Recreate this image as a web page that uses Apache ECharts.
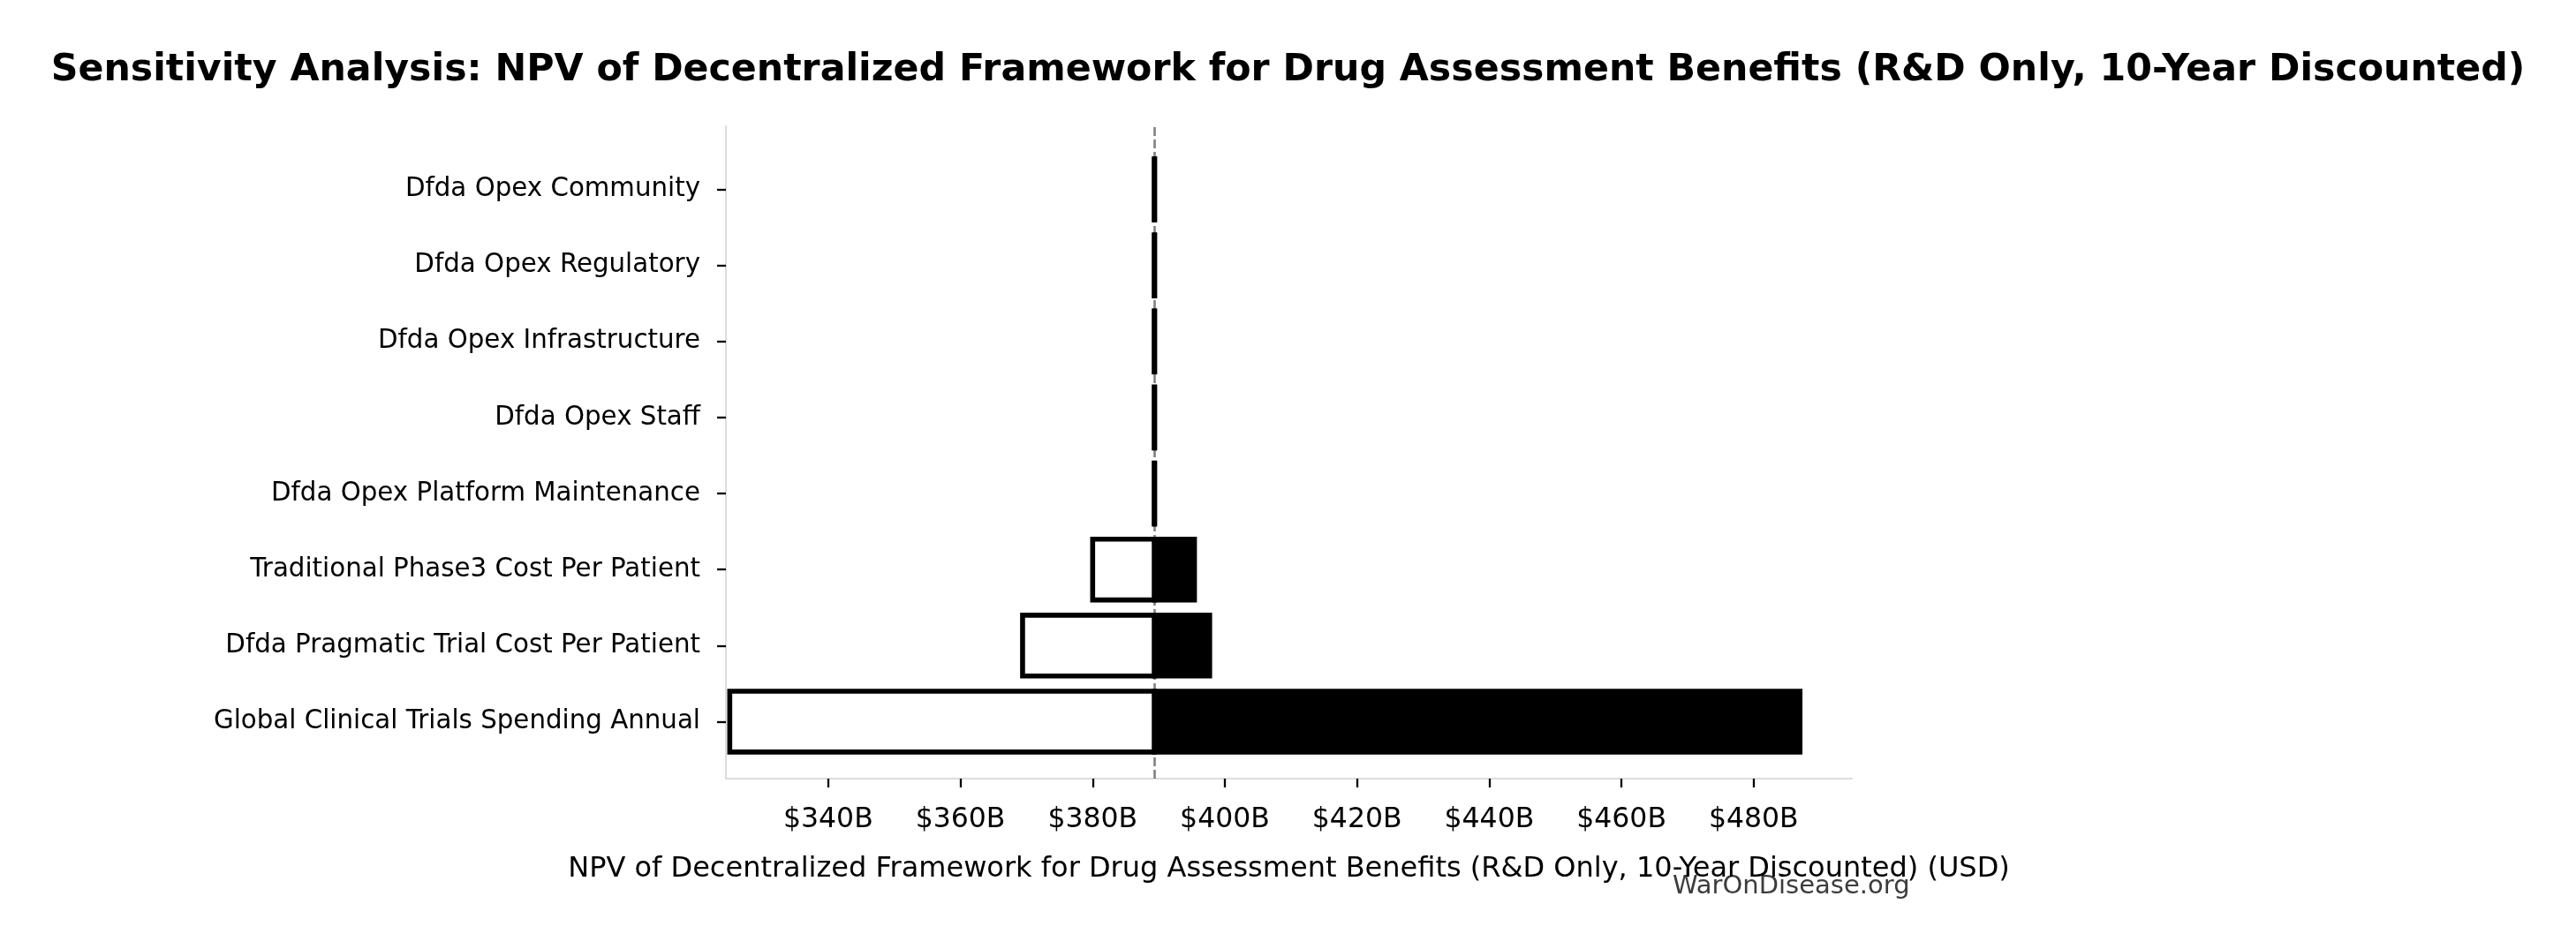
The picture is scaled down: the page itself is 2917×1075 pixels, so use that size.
<!DOCTYPE html>
<html>
<head>
<meta charset="utf-8">
<script src="https://cdn.jsdelivr.net/npm/echarts@6/dist/echarts.min.js"></script>
<style>
html,body{margin:0;padding:0;background:#fff;}
#chart{width:2917px;height:1075px;}
</style>
</head>
<body>
<div id="chart"></div>
<script>
// ---- data (values in $B) ----
const categories = [
  'Dfda Opex Community',
  'Dfda Opex Regulatory',
  'Dfda Opex Infrastructure',
  'Dfda Opex Staff',
  'Dfda Opex Platform Maintenance',
  'Traditional Phase3 Cost Per Patient',
  'Dfda Pragmatic Trial Cost Per Patient',
  'Global Clinical Trials Spending Annual'
];
const lowValues  = [389.33, 389.33, 389.33, 389.33, 389.33, 380.0, 369.4, 325.1];
const highValues = [389.38, 389.38, 389.38, 389.38, 389.38, 395.4, 397.7, 487.0];
const baselineValue = 389.35;
const tickValues = [340, 360, 380, 400, 420, 440, 460, 480];
const tickLabels = ['$340B', '$360B', '$380B', '$400B', '$420B', '$440B', '$460B', '$480B'];
const xMin = 324.52, xMax = 494.85;

const titleText = 'Sensitivity Analysis: NPV of Decentralized Framework for Drug Assessment Benefits (R&D Only, 10-Year Discounted)';
const xAxisTitle = 'NPV of Decentralized Framework for Drug Assessment Benefits (R&D Only, 10-Year Discounted) (USD)';
const watermark = 'WarOnDisease.org';

const FONT = 'DejaVu Sans';
const chart = echarts.init(document.getElementById('chart'), null, {renderer: 'canvas', width: 2917, height: 1075, devicePixelRatio: 1});

function barRenderer(fill) {
  return function (params, api) {
    const idx = api.value(0);
    const v = api.value(1);
    const p0 = api.coord([baselineValue, idx]);
    const p1 = api.coord([v, idx]);
    const h = api.size([0, 1])[1] * 0.8;
    const x = Math.min(p0[0], p1[0]);
    const w = Math.max(Math.abs(p1[0] - p0[0]), 0.01);
    return {
      type: 'rect',
      shape: {x: x, y: p0[1] - h / 2, width: w, height: h},
      style: {fill: fill, stroke: '#000', lineWidth: 5.6}
    };
  };
}

const option = {
  backgroundColor: '#ffffff',
  animation: false,
  title: {
    text: titleText,
    left: 'center',
    top: 53,
    textStyle: {fontFamily: FONT, fontSize: 42.7, fontWeight: 'bold', color: '#000', lineHeight: 44}
  },
  grid: [
    {left: 822, right: 820, top: 143, bottom: 193, containLabel: false},
    {left: 822, right: 820, top: 171.5, bottom: 214.5, containLabel: false}
  ],
  xAxis: [
    {
      type: 'value', gridIndex: 0, min: xMin, max: xMax,
      axisLine: {show: true, lineStyle: {color: '#dddddd', width: 2}},
      axisTick: {show: true, length: 10, customValues: tickValues, lineStyle: {color: '#000', width: 2.3}},
      axisLabel: {
        show: true, customValues: tickValues, margin: 30.5,
        fontFamily: FONT, fontSize: 31.5, color: '#000',
        formatter: function (v) { const i = tickValues.indexOf(v); return i >= 0 ? tickLabels[i] : ''; }
      },
      splitLine: {show: false},
      name: xAxisTitle, nameLocation: 'middle', nameGap: 87,
      nameTextStyle: {fontFamily: FONT, fontSize: 32, color: '#000', lineHeight: 32}
    },
    {
      type: 'value', gridIndex: 1, min: xMin, max: xMax, show: false,
      splitLine: {show: false}
    }
  ],
  yAxis: [
    {
      type: 'value', gridIndex: 0, min: 0, max: 1,
      axisLine: {show: true, lineStyle: {color: '#dddddd', width: 2}},
      axisTick: {show: false}, axisLabel: {show: false}, splitLine: {show: false}
    },
    {
      type: 'category', gridIndex: 1, data: categories, inverse: true,
      axisLine: {show: false},
      axisTick: {show: true, alignWithLabel: true, length: 10, lineStyle: {color: '#000', width: 2.3}},
      axisLabel: {show: true, margin: 29, fontFamily: FONT, fontSize: 29.3, color: '#000'},
      splitLine: {show: false}
    }
  ],
  series: [
    {
      type: 'line', xAxisIndex: 0, yAxisIndex: 0, data: [], silent: true, z: 1,
      markLine: {
        silent: true, z: 1, symbol: ['none', 'none'], label: {show: false},
        lineStyle: {color: '#808080', type: [10, 4], width: 2.6},
        data: [{xAxis: baselineValue}]
      }
    },
    {
      type: 'custom', xAxisIndex: 1, yAxisIndex: 1, clip: false,
      renderItem: barRenderer('#ffffff'),
      encode: {x: 1, y: 0},
      data: lowValues.map((v, i) => [i, v]),
      z: 3
    },
    {
      type: 'custom', xAxisIndex: 1, yAxisIndex: 1, clip: false,
      renderItem: barRenderer('#000000'),
      encode: {x: 1, y: 0},
      data: highValues.map((v, i) => [i, v]),
      z: 4
    }
  ],
  graphic: [
    {
      type: 'text', left: 1894, top: 990,
      style: {text: watermark, fontFamily: FONT, fontSize: 29, fill: '#3c3c3c'}
    }
  ]
};
chart.setOption(option);
</script>
</body>
</html>
